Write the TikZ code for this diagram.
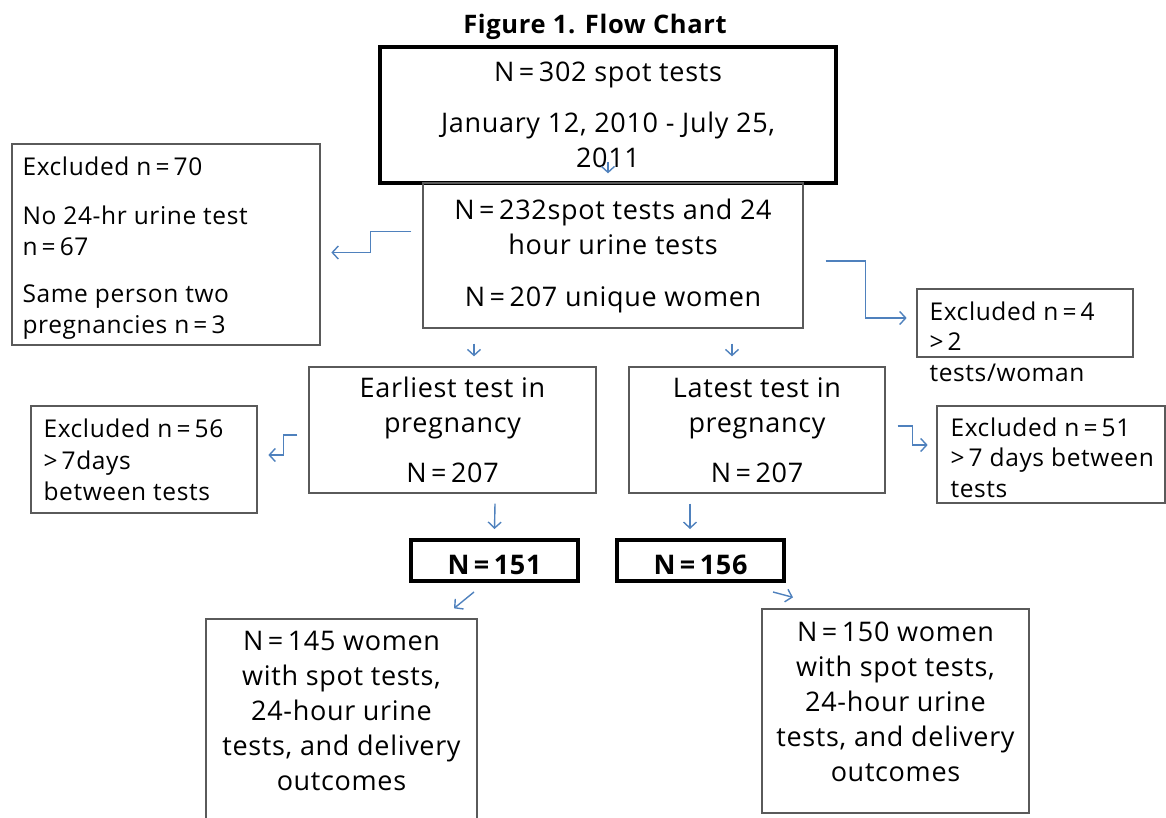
\documentclass[tikz,border=0pt]{standalone}
\usepackage{fontspec}
\setmainfont[LetterSpace=2.5]{Open Sans}
\usepackage{tikz}
\usetikzlibrary{arrows.meta}
\definecolor{pfeilblau}{RGB}{79,129,189}
\definecolor{randgrau}{RGB}{90,90,90}
\tikzstyle{boks} = [rectangle, draw=randgrau, line width=1.3pt, inner sep=0pt, align=center]
\tikzstyle{dick} = [rectangle, draw=black, line width=4pt, inner sep=0pt, align=center]
\tikzstyle{austext} = [align=left, inner sep=0pt, anchor=north west, font=\fontsize{24.5}{30.5}\selectfont]
\tikzstyle{pfeil} = [draw=pfeilblau, line width=1.4pt]

\begin{document}
\begin{tikzpicture}[->,>={Straight Barb[length=6pt,width=13pt]},x=1pt,y=-1pt,font=\fontsize{27}{35}\selectfont]
  \useasboundingbox (0,0) rectangle (1166,818);
  \node[font=\bfseries\fontsize{25.5}{30}\selectfont] (Titel) at (595,27) {Figure 1. Flow Chart};
  \node[dick, minimum width=456, minimum height=136] (N_302) at (608,115) {N\,=\,302 spot tests\\[16pt]January 12, 2010 - July 25,\\2011};
  \node[boks, minimum width=380, minimum height=145] (N_232) at (613,255.5) {N\,=\,232spot tests and 24\\hour urine tests\\[17pt]N\,=\,207 unique women};
  \node[boks, minimum width=308, minimum height=201] (Aus_70) at (166,244.5) {};
  \node[austext] (Aus_70_txt) at ([shift={(11pt,-13pt)}]Aus_70.north west) {Excluded n\,=\,70\\[19pt]No 24-hr urine test\\n\,=\,67\\[17pt]Same person two\\pregnancies n\,=\,3};
  \node[boks, minimum width=216, minimum height=68] (Aus_4) at (1025,323) {};
  \node[austext] (Aus_4_txt) at ([shift={(13pt,-13pt)}]Aus_4.north west) {Excluded n\,=\,4\\>\,2\\tests/woman};
  \node[boks, minimum width=287, minimum height=126] (Frueh) at (452.5,430) {Earliest test in\\pregnancy\\[15pt]N\,=\,207};
  \node[boks, minimum width=256, minimum height=126] (Spaet) at (757,430) {Latest test in\\pregnancy\\[15pt]N\,=\,207};
  \node[boks, minimum width=226, minimum height=107] (Aus_56) at (144,459.5) {};
  \node[austext] (Aus_56_txt) at ([shift={(13pt,-13pt)}]Aus_56.north west) {Excluded n\,=\,56\\[2pt]>\,7days\\between tests};
  \node[boks, minimum width=228, minimum height=97] (Aus_51) at (1051,454.5) {};
  \node[austext] (Aus_51_txt) at ([shift={(14pt,-12pt)}]Aus_51.north west) {Excluded n\,=\,51\\>\,7 days between\\tests};
  \node[dick, minimum width=167, minimum height=41, text height=29pt, font=\bfseries\fontsize{27}{35}\selectfont] (N_151) at (494.5,560.5) {N\,=\,151};
  \node[dick, minimum width=167, minimum height=41, text height=29pt, font=\bfseries\fontsize{27}{35}\selectfont] (N_156) at (700.5,560.5) {N\,=\,156};
  \node[boks, minimum width=271, minimum height=231] (N_145) at (341.5,734.5) {};
  \node[align=center, inner sep=0pt, anchor=north] (N_145_txt) at ([yshift=-13pt]N_145.north) {N\,=\,145 women\\with spot tests,\\24-hour urine\\tests, and delivery\\outcomes};
  \node[boks, minimum width=267, minimum height=204] (N_150) at (895.5,711) {};
  \node[align=center, inner sep=0pt, anchor=north] (N_150_txt) at ([yshift=-13pt]N_150.north) {N\,=\,150 women\\with spot tests,\\24-hour urine\\tests, and delivery\\outcomes};

  \draw[pfeil] ([yshift=23pt]N_302.south) -- ([shift={(-5pt,9pt)}]N_232.north);
  \draw[pfeil] ([shift={(-11pt,24pt)}]N_232.west) -- ++(-41,0) -- ++(0,21) -- ++(-39,0);
  \draw[pfeil] ([shift={(22pt,-5.5pt)}]N_232.east) -- ++(40,0) -- ++(0,57) -- ++(41,0);
  \draw[pfeil] ([shift={(-139pt,-15pt)}]N_232.south) -- ([shift={(21.5pt,10pt)}]Frueh.north);
  \draw[pfeil] ([shift={(119pt,-15pt)}]N_232.south) -- ([shift={(-25pt,10pt)}]Spaet.north);
  \draw[pfeil] ([shift={(-11pt,-5pt)}]Frueh.west) -- ++(-14,0) -- ++(0,20) -- ++(-15,0);
  \draw[pfeil] ([shift={(12pt,4pt)}]Spaet.east) -- ++(15,0) -- ++(0,19) -- ++(15,0);
  \draw[pfeil] ([shift={(42.5pt,-10pt)}]Frueh.south) -- ([yshift=9pt]N_151.north);
  \draw[pfeil] ([shift={(-67pt,-10pt)}]Spaet.south) -- ([shift={(-10.5pt,9pt)}]N_156.north);
  \draw[pfeil] ([shift={(-20.5pt,-9pt)}]N_151.south) -- ([shift={(112.5pt,10pt)}]N_145.north);
  \draw[pfeil] ([shift={(72.5pt,-9pt)}]N_156.south) -- ([shift={(-102.5pt,11pt)}]N_150.north);
\end{tikzpicture}
\end{document}
